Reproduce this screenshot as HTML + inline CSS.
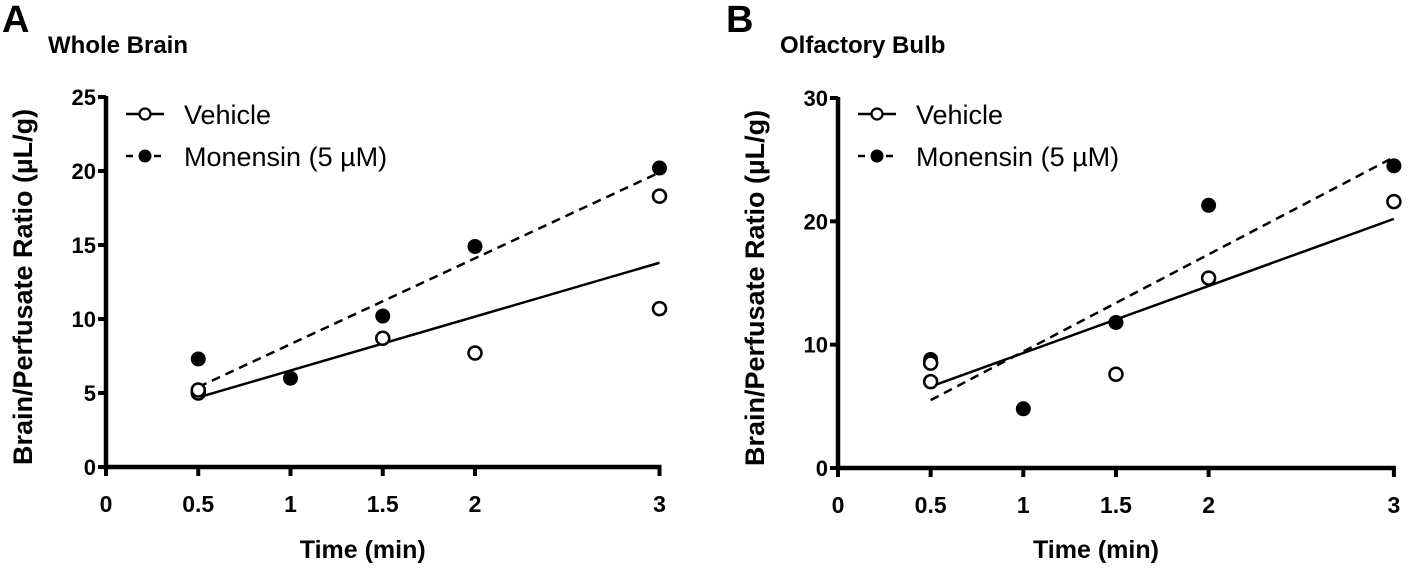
<!DOCTYPE html>
<html><head><meta charset="utf-8"><style>
html,body{margin:0;padding:0;background:#fff;width:1408px;height:574px;overflow:hidden}
svg{display:block;font-family:"Liberation Sans",Arial,sans-serif}
</style></head><body>
<svg id="fig" width="1408" height="574"></svg>
<script>
const xTicks=[0,0.5,1,1.5,2,3];
const xTickLabels=["0","0.5","1","1.5","2","3"];
const aYTicks=[0,5,10,15,20,25];
const aVehX=[0.5,0.5,1.5,2,3,3];
const aVehY=[5.0,5.2,8.7,7.7,18.3,10.7];
const aMonX=[0.5,1,1.5,2,3];
const aMonY=[7.3,6.0,10.2,14.9,20.2];
const aVehFit=[4.7,13.8];
const aMonFit=[5.4,19.9];
const bYTicks=[0,10,20,30];
const bVehX=[0.5,0.5,1.5,2,3];
const bVehY=[7.0,8.5,7.6,15.4,21.6];
const bMonX=[0.5,1,1.5,2,3];
const bMonY=[8.8,4.8,11.8,21.3,24.5];
const bVehFit=[6.6,20.2];
const bMonFit=[5.5,25.2];
const fitX=[0.5,3];

const NS="http://www.w3.org/2000/svg";
const svg=document.getElementById('fig');
function mk(tag,attrs,parent,text){const e=document.createElementNS(NS,tag);for(const k in attrs)e.setAttribute(k,attrs[k]);if(text!==undefined)e.textContent=text;(parent||svg).appendChild(e);return e;}

function panel(o){
  const g=mk('g',{});
  
  
  const sx=v=>o.x0+v*o.ux, sy=v=>o.y0-v*(o.y0-o.yTop)/o.yMax;
  let t=mk('text',{x:o.letterX,y:32,'font-size':38,'font-weight':'bold'},g,o.letter);
  
  t=mk('text',{x:o.titleX,y:53,'font-size':24,'font-weight':'bold'},g,o.title);
  
  const ax=mk('path',{d:`M${o.x0} ${o.yTop-1}V${o.y0}H${sx(3)+2}`,stroke:'#000','stroke-width':4.5,fill:'none'},g);
  
  o.yTicks.forEach(v=>{
    const tk=mk('line',{x1:o.x0-8,x2:o.x0,y1:sy(v),y2:sy(v),stroke:'#000','stroke-width':4},g);
    
    const l=mk('text',{x:o.x0-10,y:sy(v)+8,'font-size':22,'font-weight':'bold','text-anchor':'end'},g,String(v));
    
  });
  xTicks.forEach((v,i)=>{
    const tk=mk('line',{x1:sx(v),x2:sx(v),y1:o.y0,y2:o.y0+9,stroke:'#000','stroke-width':4},g);
    
    const l=mk('text',{x:sx(v),y:o.y0+45,'font-size':23,'font-weight':'bold','text-anchor':'middle'},g,xTickLabels[i]);
    
  });
  t=mk('text',{x:sx(1.5)-20,y:558,'font-size':25,'font-weight':'bold','text-anchor':'middle'},g,'Time (min)');
  
  t=mk('text',{x:0,y:0,'font-size':27,'font-weight':'bold','text-anchor':'middle',transform:`translate(${o.x0-74},${(o.y0+o.yTop)/2+5}) rotate(-90)`},g,'Brain/Perfusate Ratio (\u00b5L/g)');
  
  let f=mk('line',{x1:sx(fitX[0]),y1:sy(o.vehFit[0]),x2:sx(fitX[1]),y2:sy(o.vehFit[1]),stroke:'#000','stroke-width':2.5},g);
  
  f=mk('line',{x1:sx(fitX[0]),y1:sy(o.monFit[0]),x2:sx(fitX[1]),y2:sy(o.monFit[1]),stroke:'#000','stroke-width':2.5,'stroke-dasharray':'9 6'},g);
  
  o.monX.forEach((x,i)=>{
    const c=mk('circle',{cx:sx(x),cy:sy(o.monY[i]),r:7.5,fill:'#000'},g);
    
  });
  o.vehX.forEach((x,i)=>{
    const c=mk('circle',{cx:sx(x),cy:sy(o.vehY[i]),r:6.5,fill:'#fff',stroke:'#000','stroke-width':2.5},g);
    
  });
  const lx=o.x0+20;
  const lg=mk('g',{},g);
  
  const e1=mk('g',{},lg);
  
  mk('line',{x1:lx,x2:lx+38,y1:114,y2:114,stroke:'#000','stroke-width':2.5},e1);
  mk('circle',{cx:lx+19,cy:114,r:5.5,fill:'#fff',stroke:'#000','stroke-width':2.2},e1);
  mk('text',{x:lx+58,y:124,'font-size':27},e1,'Vehicle');
  const e2=mk('g',{},lg);
  
  mk('line',{x1:lx,x2:lx+38,y1:156,y2:156,stroke:'#000','stroke-width':2.5,'stroke-dasharray':'7 7'},e2);
  mk('circle',{cx:lx+19,cy:156,r:6.5,fill:'#000'},e2);
  mk('text',{x:lx+58,y:166,'font-size':27},e2,'Monensin (5 \u00b5M)');
}
panel({id:'whole-brain',letter:'A',letterX:2,title:'Whole Brain',titleX:48,x0:106,ux:184.5,y0:467,yTop:97,yMax:25,yTicks:aYTicks,
  vehX:aVehX,vehY:aVehY,monX:aMonX,monY:aMonY,vehFit:aVehFit,monFit:aMonFit});
panel({id:'olfactory-bulb',letter:'B',letterX:726,title:'Olfactory Bulb',titleX:780,x0:838,ux:185.3,y0:468,yTop:98,yMax:30,yTicks:bYTicks,
  vehX:bVehX,vehY:bVehY,monX:bMonX,monY:bMonY,vehFit:bVehFit,monFit:bMonFit});
</script>
</body></html>
